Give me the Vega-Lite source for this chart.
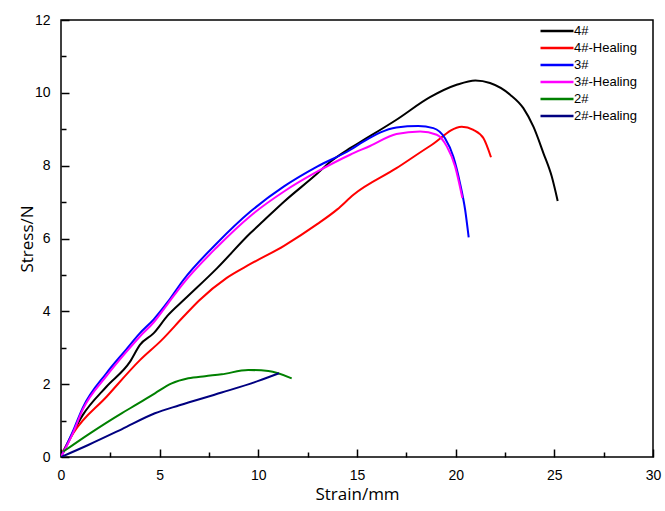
{
  "$schema": "https://vega.github.io/schema/vega-lite/v6.json",
  "autosize": "none",
  "width": 592,
  "height": 437,
  "padding": {"left": 61, "top": 20, "right": 12, "bottom": 54},
  "background": "white",
  "config": {
    "view": {"stroke": "black", "strokeWidth": 1.5},
    "axis": {"grid": false, "domain": false, "tickColor": "black", "tickWidth": 1.5,
             "labelFont": "Liberation Sans", "labelFontSize": 14, "labelColor": "black",
             "titleFont": "Open Sans", "titleFontSize": 17, "titleFontWeight": "normal", "titleColor": "black"}
  },
  "data": {"values": [
    {"s":"4#","x":0,"y":0},{"s":"4#","x":1.1,"y":1.15},{"s":"4#","x":2.3,"y":1.93},{"s":"4#","x":3.5,"y":2.62},{"s":"4#","x":4.0,"y":3.08},{"s":"4#","x":4.7,"y":3.4},{"s":"4#","x":5.4,"y":3.88},{"s":"4#","x":6.3,"y":4.35},{"s":"4#","x":7.9,"y":5.18},{"s":"4#","x":9.6,"y":6.15},{"s":"4#","x":10.25,"y":6.48},{"s":"4#","x":11.3,"y":7.01},{"s":"4#","x":13.0,"y":7.79},{"s":"4#","x":13.63,"y":8.1},{"s":"4#","x":14.65,"y":8.48},{"s":"4#","x":15.32,"y":8.7},{"s":"4#","x":17.0,"y":9.26},{"s":"4#","x":18.7,"y":9.88},{"s":"4#","x":20.05,"y":10.22},{"s":"4#","x":21.0,"y":10.34},{"s":"4#","x":21.74,"y":10.27},{"s":"4#","x":22.76,"y":9.95},{"s":"4#","x":23.43,"y":9.58},{"s":"4#","x":23.94,"y":9.07},{"s":"4#","x":24.45,"y":8.34},{"s":"4#","x":24.87,"y":7.7},{"s":"4#","x":25.17,"y":7.03},
    {"s":"4#-Healing","x":0.1,"y":0.15},{"s":"4#-Healing","x":0.62,"y":0.65},{"s":"4#-Healing","x":2.32,"y":1.66},{"s":"4#-Healing","x":4.0,"y":2.66},{"s":"4#-Healing","x":5.1,"y":3.21},{"s":"4#-Healing","x":6.2,"y":3.85},{"s":"4#-Healing","x":7.0,"y":4.3},{"s":"4#-Healing","x":8.4,"y":4.92},{"s":"4#-Healing","x":9.6,"y":5.3},{"s":"4#-Healing","x":11.3,"y":5.8},{"s":"4#-Healing","x":13.0,"y":6.4},{"s":"4#-Healing","x":14.0,"y":6.8},{"s":"4#-Healing","x":14.82,"y":7.2},{"s":"4#-Healing","x":17.0,"y":7.93},{"s":"4#-Healing","x":18.7,"y":8.54},{"s":"4#-Healing","x":20.31,"y":9.07},{"s":"4#-Healing","x":20.9,"y":8.98},{"s":"4#-Healing","x":21.41,"y":8.75},{"s":"4#-Healing","x":21.79,"y":8.23},
    {"s":"3#","x":0,"y":0},{"s":"3#","x":0.6,"y":0.7},{"s":"3#","x":1.1,"y":1.35},{"s":"3#","x":2.3,"y":2.3},{"s":"3#","x":3.3,"y":2.95},{"s":"3#","x":4.0,"y":3.4},{"s":"3#","x":4.7,"y":3.78},{"s":"3#","x":5.4,"y":4.25},{"s":"3#","x":6.2,"y":4.86},{"s":"3#","x":7.9,"y":5.87},{"s":"3#","x":9.6,"y":6.74},{"s":"3#","x":11.3,"y":7.43},{"s":"3#","x":13.0,"y":7.98},{"s":"3#","x":14.65,"y":8.43},{"s":"3#","x":15.32,"y":8.66},{"s":"3#","x":17.0,"y":9.05},{"s":"3#","x":18.1,"y":9.09},{"s":"3#","x":18.87,"y":9.03},{"s":"3#","x":19.46,"y":8.75},{"s":"3#","x":19.88,"y":8.25},{"s":"3#","x":20.22,"y":7.52},{"s":"3#","x":20.48,"y":6.79},{"s":"3#","x":20.66,"y":6.03},
    {"s":"3#-Healing","x":0,"y":0},{"s":"3#-Healing","x":0.6,"y":0.65},{"s":"3#-Healing","x":1.1,"y":1.3},{"s":"3#-Healing","x":2.3,"y":2.22},{"s":"3#-Healing","x":3.3,"y":2.88},{"s":"3#-Healing","x":4.0,"y":3.31},{"s":"3#-Healing","x":4.7,"y":3.7},{"s":"3#-Healing","x":5.4,"y":4.2},{"s":"3#-Healing","x":6.2,"y":4.77},{"s":"3#-Healing","x":7.9,"y":5.76},{"s":"3#-Healing","x":9.6,"y":6.62},{"s":"3#-Healing","x":11.3,"y":7.29},{"s":"3#-Healing","x":13.0,"y":7.84},{"s":"3#-Healing","x":14.65,"y":8.3},{"s":"3#-Healing","x":15.66,"y":8.54},{"s":"3#-Healing","x":17.0,"y":8.87},{"s":"3#-Healing","x":18.2,"y":8.94},{"s":"3#-Healing","x":19.04,"y":8.85},{"s":"3#-Healing","x":19.55,"y":8.53},{"s":"3#-Healing","x":19.97,"y":7.98},{"s":"3#-Healing","x":20.34,"y":7.11},
    {"s":"2#","x":0.12,"y":0.15},{"s":"2#","x":1.47,"y":0.65},{"s":"2#","x":3.07,"y":1.2},{"s":"2#","x":3.92,"y":1.47},{"s":"2#","x":4.76,"y":1.75},{"s":"2#","x":5.61,"y":2.02},{"s":"2#","x":6.45,"y":2.16},{"s":"2#","x":7.3,"y":2.22},{"s":"2#","x":8.14,"y":2.27},{"s":"2#","x":9.49,"y":2.39},{"s":"2#","x":10.51,"y":2.36},{"s":"2#","x":11.69,"y":2.16},
    {"s":"2#-Healing","x":0,"y":0},{"s":"2#-Healing","x":1.38,"y":0.33},{"s":"2#-Healing","x":3.07,"y":0.76},{"s":"2#-Healing","x":4.76,"y":1.2},{"s":"2#-Healing","x":6.0,"y":1.42},{"s":"2#-Healing","x":8.14,"y":1.77},{"s":"2#-Healing","x":10.0,"y":2.09},{"s":"2#-Healing","x":11.05,"y":2.3}
  ]},
  "mark": {"type": "line", "strokeWidth": 2, "clip": true, "interpolate": "monotone"},
  "encoding": {
    "x": {"field": "x", "type": "quantitative", "title": "Strain/mm",
          "scale": {"domain": [0, 30], "nice": false, "zero": false},
          "axis": {"orient": "top", "offset": -437,
                   "values": [0,2.5,5,7.5,10,12.5,15,17.5,20,22.5,25,27.5,30],
                   "labelExpr": "datum.value % 5 == 0 ? datum.label : ''",
                   "tickColor": "black", "tickWidth": 1.5,
                   "tickSize": {"condition": {"test": "datum.value % 5 == 0", "value": 8}, "value": 5},
                   "labelPadding": -19, "labelBaseline": "top", "labelFlush": false,
                   "titleX": 296, "titleY": 37, "titleBaseline": "middle", "titleAlign": "center", "titleAngle": 0}},
    "y": {"field": "y", "type": "quantitative", "title": "Stress/N",
          "scale": {"domain": [0, 12], "nice": false, "zero": false},
          "axis": {"orient": "right", "offset": -592,
                   "values": [0,1,2,3,4,5,6,7,8,9,10,11,12],
                   "labelExpr": "datum.value % 2 == 0 ? datum.label : ''",
                   "tickSize": {"condition": {"test": "datum.value % 2 == 0", "value": 8}, "value": 5},
                   "labelPadding": -19, "labelAlign": "right", "labelBaseline": "middle", "labelFlush": false,
                   "titleX": -34, "titleY": 218.5, "titleAngle": 270, "titleBaseline": "middle", "titleAlign": "center"}},
    "color": {"field": "s", "type": "nominal", "sort": ["4#","4#-Healing","3#","3#-Healing","2#","2#-Healing"],
              "scale": {"domain": ["4#","4#-Healing","3#","3#-Healing","2#","2#-Healing"],
                        "range": ["#000000","#ff0000","#0000ff","#ff00ff","#008000","#000080"]},
              "legend": {"title": null, "orient": "none", "legendX": 489, "legendY": 4, "padding": 0,
                         "symbolType": "M-3,0H3", "symbolSize": 121, "symbolStrokeWidth": 2.5,
                         "labelOffset": 10, "labelFont": "Liberation Sans", "labelFontSize": 13, "labelColor": "black",
                         "rowPadding": 3}}
  }
}
